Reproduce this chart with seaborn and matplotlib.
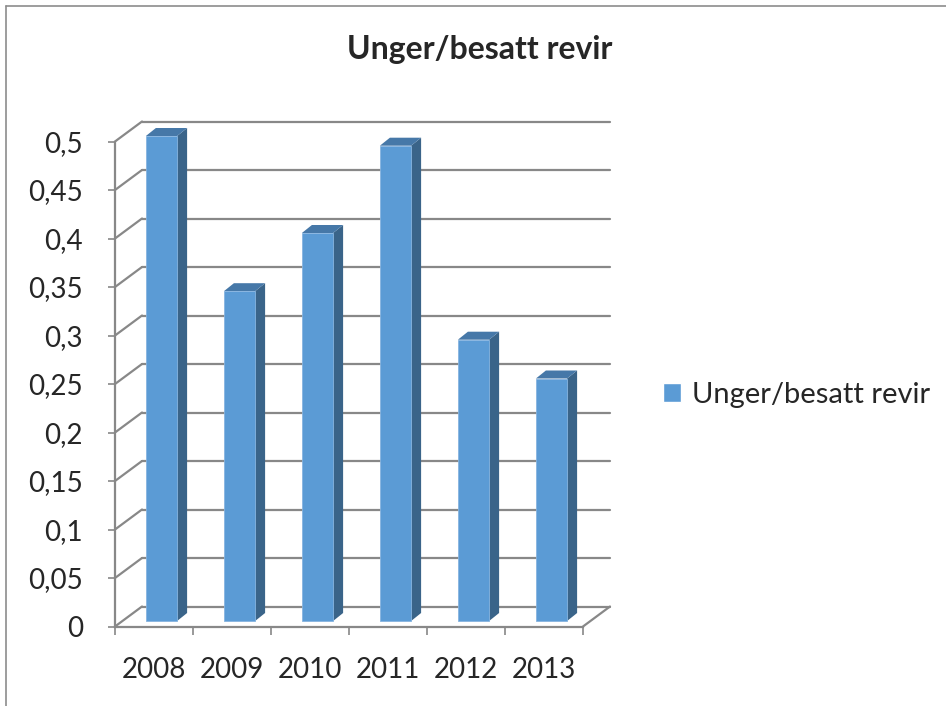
import matplotlib
matplotlib.use('Agg')
import matplotlib.pyplot as plt
import pandas as pd
import seaborn as sns
from matplotlib.patches import Polygon, Patch
from matplotlib.lines import Line2D
from matplotlib.transforms import ScaledTranslation

years = ['2008', '2009', '2010', '2011', '2012', '2013']
values = [0.50, 0.34, 0.40, 0.49, 0.29, 0.25]
yticks = [0, 0.05, 0.1, 0.15, 0.2, 0.25, 0.3, 0.35, 0.4, 0.45, 0.5]
ytick_labels = ['0', '0,05', '0,1', '0,15', '0,2', '0,25', '0,3', '0,35', '0,4', '0,45', '0,5']
series_name = 'Unger/besatt revir'

front_col = '#5b9bd5'
side_col = '#3a6489'
top_col = '#4678a8'
grid_col = '#888888'

sns.set_theme(style='white')
plt.rcParams['font.family'] = ['Lato', 'DejaVu Sans']

fig = plt.figure(figsize=(9.46, 7.06), dpi=100)
# axes = front plane of the 3d box
ax = fig.add_axes([115 / 946, 79.5 / 706, 468 / 946, 485 / 706])

df = pd.DataFrame({'year': years, 'value': values})
sns.barplot(data=df, x='year', y='value', color=front_col, saturation=1,
            width=0.4, edgecolor='#86b4e0', linewidth=0.6, ax=ax)
ax.set_xlim(-0.5, 5.5)
ax.set_ylim(0, 0.5)


def px(dx, dy):
    return ScaledTranslation(dx / 100, dy / 100, fig.dpi_scale_trans)


def shift(x, y, dx, dy):
    disp = ax.transData.transform((x, y))
    return ax.transData.inverted().transform((disp[0] + dx, disp[1] + dy))


# depth offsets (pixels)
bar_plane = ax.transData + px(7.5, 5.5)
back_plane = ax.transData + px(27, 20)
bar_depth = (10, 8)

# back wall gridlines + left wall diagonals
for v in yticks:
    ax.plot([-0.5, 5.5], [v, v], transform=back_plane, color=grid_col,
            lw=1.6, clip_on=False, zorder=1)
    bx, by = shift(-0.5, v, 27, 20)
    ax.plot([-0.5, bx], [v, by], color=grid_col, lw=1.6, clip_on=False, zorder=1)
bx, by = shift(5.5, 0, 27, 20)
ax.plot([5.5, bx], [0, by], color=grid_col, lw=1.6, clip_on=False, zorder=1)

# 3d bars: front face from seaborn, side and top faces added
for p in list(ax.patches):
    p.set_transform(bar_plane)
    p.set_clip_on(False)
    p.set_zorder(3)
    x0 = p.get_x()
    x1 = x0 + p.get_width()
    h = p.get_height()
    side = [(x1, 0), (x1, h), shift(x1, h, *bar_depth), shift(x1, 0, *bar_depth)]
    top = [(x0, h), (x1, h), shift(x1, h, *bar_depth), shift(x0, h, *bar_depth)]
    ax.add_patch(Polygon(side, closed=True, facecolor=side_col, edgecolor='none',
                         transform=bar_plane, clip_on=False, zorder=2))
    ax.add_patch(Polygon(top, closed=True, facecolor=top_col, edgecolor='none',
                         transform=bar_plane, clip_on=False, zorder=2))

sns.despine(ax=ax)
for s in ['left', 'bottom']:
    ax.spines[s].set_color(grid_col)
    ax.spines[s].set_linewidth(1.6)

ax.set_yticks(yticks)
ax.set_yticklabels(ytick_labels, fontsize=20)
ax.tick_params(axis='y', left=True, length=5, width=1.2, color=grid_col, pad=18)
ax.set_xticks(range(len(years)))
ax.set_xticklabels(years, fontsize=20)
ax.set_xticks([i - 0.5 for i in range(len(years) + 1)], minor=True)
ax.tick_params(axis='x', which='major', length=0, pad=22)
ax.tick_params(axis='x', which='minor', bottom=True, length=6, width=1.2, color=grid_col)
ax.set_xlabel('')
ax.set_ylabel('')

fig.text(480 / 946, 1 - 59.3 / 706, series_name, ha='center', va='baseline',
         fontsize=23, fontweight='bold')

ax.legend(handles=[Patch(facecolor=front_col, label=series_name)],
          loc='center left', bbox_to_anchor=(663 / 946, 1 - 394.5 / 706),
          bbox_transform=fig.transFigure, frameon=False, fontsize=21,
          handlelength=0.62, handleheight=0.62, handletextpad=0.38,
          borderpad=0, borderaxespad=0)

# chart area border (left and top edges visible)
fig.add_artist(Line2D([6 / 946, 6 / 946], [0, 1 - 6 / 706],
                      transform=fig.transFigure, color='#8c8c8c', lw=1.2))
fig.add_artist(Line2D([6 / 946, 1], [1 - 6 / 706, 1 - 6 / 706],
                      transform=fig.transFigure, color='#8c8c8c', lw=1.2))

fig.savefig('out.png', dpi=100)
